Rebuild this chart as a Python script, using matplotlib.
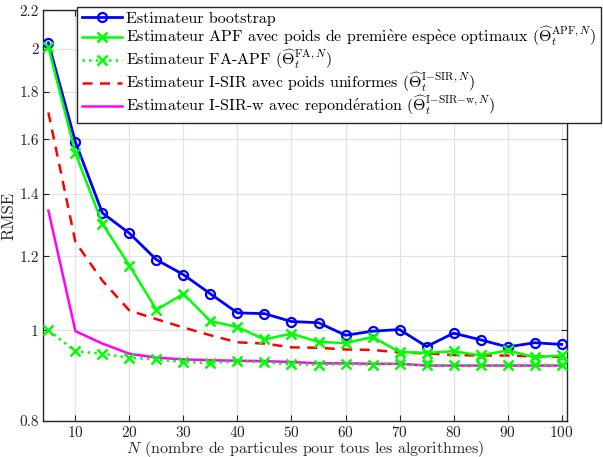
import numpy as np
import matplotlib
matplotlib.use('Agg')
import matplotlib.pyplot as plt
from matplotlib.ticker import FixedLocator, FixedFormatter, NullLocator

plt.rcParams['font.family'] = ['cmr10', 'Liberation Serif']
plt.rcParams['mathtext.fontset'] = 'cm'
plt.rcParams['axes.formatter.use_mathtext'] = True

N = [5, 10, 15, 20, 25, 30, 35, 40, 45, 50, 55, 60, 65, 70, 75, 80, 85, 90, 95, 100]

rmse_bootstrap = [2.03, 1.59, 1.335, 1.27, 1.19, 1.147, 1.094, 1.044, 1.042, 1.022,
                  1.019, 0.988, 0.998, 1.002, 0.961, 0.993, 0.977, 0.960, 0.970, 0.966]
rmse_apf = [2.008, 1.547, 1.30, 1.173, 1.052, 1.094, 1.023, 1.008, 0.978, 0.992,
            0.972, 0.969, 0.984, 0.948, 0.946, 0.950, 0.940, 0.952, 0.936, 0.940]
rmse_fa_apf = [1.00, 0.950, 0.944, 0.935, 0.931, 0.925, 0.923, 0.927, 0.924, 0.920,
               0.919, 0.920, 0.919, 0.921, 0.918, 0.918, 0.918, 0.918, 0.919, 0.918]
rmse_isir = [1.71, 1.243, 1.13, 1.05, 1.028, 1.007, 0.988, 0.971, 0.968, 0.959,
             0.958, 0.954, 0.953, 0.947, 0.945, 0.941, 0.940, 0.940, 0.938, 0.937]
rmse_isir_w = [1.343, 0.998, 0.968, 0.944, 0.935, 0.931, 0.929, 0.928, 0.927, 0.925,
               0.922, 0.922, 0.921, 0.921, 0.917, 0.917, 0.917, 0.917, 0.917, 0.917]

# stray green circles visible under the curves on the right side
N_extra = [70, 75, 85, 95, 100]
rmse_extra = [0.935, 0.935, 0.927, 0.929, 0.924]

# cmr10 has no accented glyphs, so accents go through mathtext
e_grave = r'$\grave{\mathrm{e}}$'
e_acute = r'$\acute{\mathrm{e}}$'
labels = [
    'Estimateur bootstrap',
    'Estimateur APF avec poids de premi' + e_grave + 're esp' + e_grave
    + r'ce optimaux $(\widehat{\Theta}_t^{\mathrm{APF},N})$',
    r'Estimateur FA-APF $(\widehat{\Theta}_t^{\mathrm{FA},N})$',
    r'Estimateur I-SIR avec poids uniformes $(\widehat{\Theta}_t^{\mathrm{I{-}SIR},N})$',
    'Estimateur I-SIR-w avec repond' + e_acute
    + r'ration $(\widehat{\Theta}_t^{\mathrm{I{-}SIR{-}w},N})$',
]

fig = plt.figure(figsize=(6.03, 4.57), dpi=100)
ax = fig.add_axes([0.0713, 0.0788, 0.869, 0.899])

ax.plot(N_extra, rmse_extra, 'o', color='#00ff00', markerfacecolor='none',
        markersize=5, markeredgewidth=1.2, zorder=2)

ax.plot(N, rmse_bootstrap, 'o-', color='#0000ff', markerfacecolor='none',
        linewidth=2, markersize=6.5, markeredgewidth=1.6, label=labels[0], zorder=3)
ax.plot(N, rmse_apf, 'x-', color='#00ff00', linewidth=1.8,
        markersize=7, markeredgewidth=1.8, label=labels[1], zorder=4)
ax.plot(N, rmse_fa_apf, 'x:', color='#00ff00', linewidth=1.8,
        markersize=7, markeredgewidth=1.8, label=labels[2], zorder=4)
ax.plot(N, rmse_isir, '--', color='#ff0000', linewidth=1.8,
        dashes=(4, 3), label=labels[3], zorder=3)
ax.plot(N, rmse_isir_w, '-', color='#ff00ff', linewidth=1.8,
        label=labels[4], zorder=3)

ax.set_yscale('log')
ax.set_xlim(4, 101)
ax.set_ylim(0.8, 2.2)

yt = [0.8, 1.0, 1.2, 1.4, 1.6, 1.8, 2.0, 2.2]
ax.yaxis.set_major_locator(FixedLocator(yt))
ax.yaxis.set_major_formatter(FixedFormatter(['0.8', '1', '1.2', '1.4', '1.6', '1.8', '2', '2.2']))
ax.yaxis.set_minor_locator(NullLocator())
ax.set_xticks(range(10, 101, 10))

ax.tick_params(direction='in', top=True, right=True, length=4, width=0.8,
               labelsize=11, colors='#262626', pad=3)
ax.grid(True, color='#e3e3e3', linewidth=0.9)
ax.set_axisbelow(True)
for s in ax.spines.values():
    s.set_color('#262626')
    s.set_linewidth(1.0)

ax.set_xlabel(r'$N$ (nombre de particules pour tous les algorithmes)', fontsize=11.5,
              color='#262626', labelpad=-1)
ax.set_ylabel('RMSE', fontsize=12, color='#262626', labelpad=2)

leg = fig.legend(loc='upper left', bbox_to_anchor=(77 / 603, 1 - 7 / 457),
                 fontsize=11.5, frameon=True, fancybox=False, framealpha=1,
                 edgecolor='#262626', handlelength=2.5, handletextpad=0.25,
                 borderpad=0.3, labelspacing=-0.07, borderaxespad=0)
leg.get_frame().set_linewidth(1.0)

fig.savefig('out.png', dpi=100)
